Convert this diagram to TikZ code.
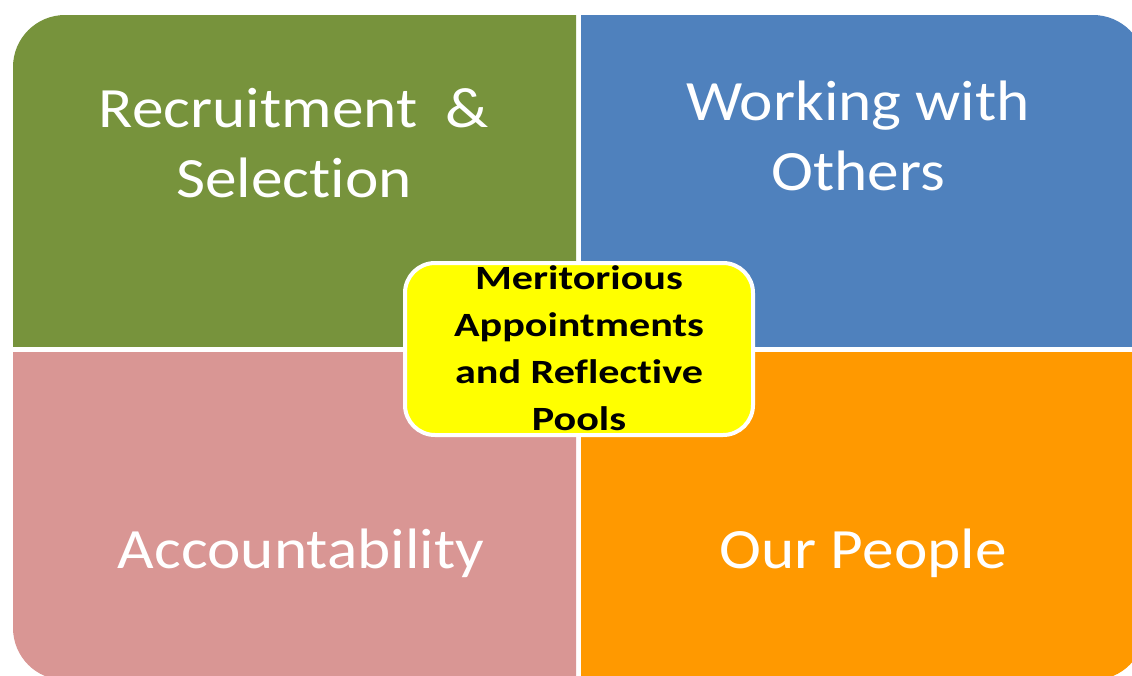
\documentclass[tikz,border=0pt]{standalone}
\usepackage{fontspec}
\newfontfamily\quadfont[FakeStretch=1.11,Ligatures={NoCommon,NoRare,NoHistoric}]{Carlito}
\newfontfamily\centerfont[FakeStretch=1.24,Ligatures={NoCommon,NoRare,NoHistoric}]{Carlito}
\definecolor{qgreen}{HTML}{77933C}
\definecolor{qblue}{HTML}{4F81BD}
\definecolor{qpink}{HTML}{D99694}
\definecolor{qorange}{HTML}{FF9900}
\definecolor{cyellow}{HTML}{FFFF00}
\tikzset{
  quadtext/.style={text=white, align=center, inner sep=0pt, anchor=base,
    font=\quadfont\fontsize{57}{70}\selectfont},
  centerbox/.style={fill=cyellow, draw=white, line width=4pt, rounded corners=30pt},
  centertext/.style={text=black, align=center, inner sep=0pt, anchor=base,
    font=\centerfont\bfseries\fontsize{34}{46.7}\selectfont}
}
\begin{document}
\begin{tikzpicture}[x=1pt,y=-1pt]
\useasboundingbox (0,0) rectangle (1132,675);
\fill[white] (0,0) rectangle (1132,675);
% quadrants: only the outer corner is rounded
\begin{scope}
  \clip (13,15) rectangle (576,346);
  \fill[qgreen, rounded corners=52pt] (13,15) rectangle (700,500);
\end{scope}
\begin{scope}
  \clip (581,15) rectangle (1145,346);
  \fill[qblue, rounded corners=52pt] (450,15) rectangle (1145,500);
\end{scope}
\begin{scope}
  \clip (13,352) rectangle (576,680);
  \fill[qpink, rounded corners=52pt] (13,200) rectangle (700,680);
\end{scope}
\begin{scope}
  \clip (581,352) rectangle (1145,680);
  \fill[qorange, rounded corners=52pt] (450,200) rectangle (1145,680);
\end{scope}
% multi-line nodes: base anchor is the baseline of the last line
\node[quadtext] (rs) at (294,197) {Recruitment\ \ \&\\Selection};
\node[quadtext] (wo) at (858,190) {Working with\\Others};
\node[quadtext] (ac) at (301,568) {Accountability};
\node[quadtext] (op) at (863,568) {Our People};
\draw[centerbox] (405,263) rectangle (753,435);
\node[centertext] (ma) at (579,430) {Meritorious\\Appointments\\and Reflective\\Pools};
\end{tikzpicture}
\end{document}
